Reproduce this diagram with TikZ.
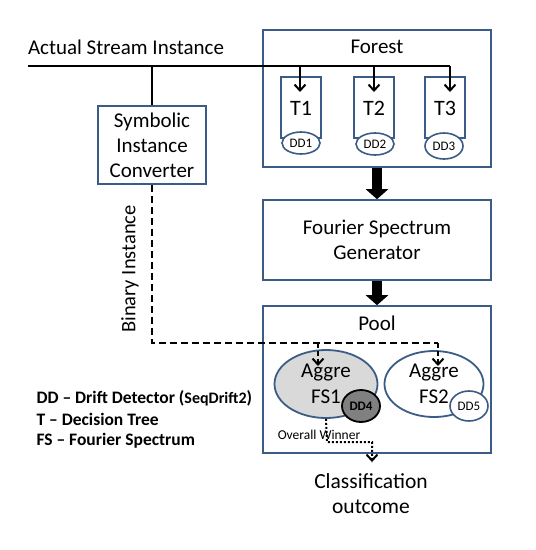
\documentclass[tikz,border=0pt]{standalone}
\usepackage{fontspec}
\setmainfont{Carlito}
\usetikzlibrary{arrows.meta,shapes.geometric,calc}
\definecolor{bblue}{RGB}{60,92,136}
\definecolor{lgray}{RGB}{217,217,217}
\definecolor{dgray}{RGB}{128,128,128}
\tikzset{
  box/.style={draw=bblue,line width=1.6pt,fill=white,inner sep=0pt,align=center,font=\fontsize{21}{25}\selectfont},
  tree/.style={draw=bblue,line width=1.6pt,fill=white,inner sep=0pt},
  dd/.style={ellipse,draw=bblue,line width=1.6pt,fill=white,inner sep=0pt,font=\fontsize{13}{14}\selectfont},
  fs/.style={ellipse,draw=bblue,line width=1.8pt,inner sep=0pt,align=center,font=\fontsize{21}{26}\selectfont},
  thin/.style={line width=2.2pt,-{Straight Barb[length=6pt,width=11pt,line width=2pt]}},
  bigarrow/.style={line width=10pt,-{Triangle[length=10pt,width=22pt]}},
  lbl/.style={font=\fontsize{21}{24}\selectfont},
  legend/.style={font=\bfseries\fontsize{17.5}{21}\selectfont,align=left,anchor=west}
}
\begin{document}
\begin{tikzpicture}[x=1pt,y=-1pt]
\useasboundingbox (0,0) rectangle (536,550);
\fill[white] (0,0) rectangle (536,550);
% labels
\node[lbl] (asi) at (126,47) {Actual Stream Instance};
% boxes
\node[box,minimum width=228,minimum height=137] (forest) at (377,98.5) {};
\node[lbl] (forestl) at (377,47) {Forest};
\node[box,minimum width=108,minimum height=78] (sic) at (152,145) {Symbolic\\Instance\\Converter};
\node[box,minimum width=228,minimum height=80] (fsg) at (377,240) {Fourier Spectrum\\Generator};
\node[box,minimum width=228,minimum height=147] (pool) at (377,379.5) {};
\node[lbl] (pooll) at (377,323) {Pool};
% trees
\node[tree,minimum width=40,minimum height=61] (t1) at (301,107.5) {};
\node[tree,minimum width=40,minimum height=61] (t2) at (374,107.5) {};
\node[tree,minimum width=40,minimum height=61] (t3) at (445,107.5) {};
\node[font=\fontsize{22}{24}\selectfont] (t1l) at (301,108) {T1};
\node[font=\fontsize{22}{24}\selectfont] (t2l) at (374,108) {T2};
\node[font=\fontsize{22}{24}\selectfont] (t3l) at (445,108) {T3};
\node[dd,minimum width=38,minimum height=22] (dd1) at (301,143) {DD1};
\node[dd,minimum width=38,minimum height=22] (dd2) at (375,144) {DD2};
\node[dd,minimum width=38,minimum height=26] (dd3) at (444,146) {DD3};
% stream line
\coordinate (s0) at (28,66);
\coordinate (s3) at (450,66);
\draw[line width=2.5pt] (s0) -- (s3);
\draw[line width=2.5pt] (sic.north |- s0) -- (sic.north);
\coordinate (a1) at (300,92);
\coordinate (a2) at (374,92);
\coordinate (a3) at (450,92);
\draw[thin] (a1 |- s0) -- (a1);
\draw[thin] (a2 |- s0) -- (a2);
\draw[thin] (s3) -- (a3);
% big arrows
\draw[bigarrow] (forest.south) -- (fsg.north);
\draw[bigarrow] (fsg.south) -- (pool.north);
% pool ellipses
\node[fs,fill=lgray,minimum width=103,minimum height=68] (fs1) at (326,384) {Aggre\\FS1};
\node[fs,fill=white,minimum width=99,minimum height=66] (fs2) at (434,384) {Aggre\\FS2};
\node[dd,draw=black,fill=dgray,line width=1.8pt,minimum width=38,minimum height=32,font=\bfseries\fontsize{13}{14}\selectfont] (dd4) at (361,406) {DD4};
\node[dd,minimum width=38,minimum height=30] (dd5) at (469,406) {DD5};
% binary instance dashed
\coordinate (b0) at (152,343);
\coordinate (b1) at (318,343);
\coordinate (b2) at (438,343);
\coordinate (b1e) at (318,366);
\coordinate (b2e) at (438,366);
\draw[line width=2.8pt,dash pattern=on 7pt off 4pt] (sic.south) -- (b0) -- (b2);
\draw[thin,dash pattern=on 5pt off 3pt] (b1) -- (b1e);
\draw[thin,dash pattern=on 5pt off 3pt] (b2) -- (b2e);
\node[lbl,rotate=90,font=\fontsize{20.5}{24}\selectfont] (bin) at (130,269) {Binary Instance};
% overall winner
\node[font=\fontsize{13.5}{15}\selectfont] (ow) at (319,435) {Overall Winner};
\coordinate (w0) at (327,442);
\coordinate (w1) at (372,442);
\coordinate (w2) at (372,462);
\coordinate (w2a) at (372,461);
\draw[line width=2pt,dotted] (fs1.south) -- (w0) -- (w1) -- (w2);
\draw[line width=2pt,-{Straight Barb[length=6pt,width=11pt]}] (w2a) -- (w2);
\node[lbl,align=center,font=\fontsize{21.5}{25}\selectfont] (co) at (371,494) {Classification\\outcome};
% legend
\node[legend] (leg1) at (33,398) {DD – Drift Detector ({\fontsize{16}{17}\selectfont SeqDrift2})};
\node[legend] (leg2) at (33,419) {T – Decision Tree};
\node[legend] (leg3) at (33,441) {FS – Fourier Spectrum};
\end{tikzpicture}
\end{document}
